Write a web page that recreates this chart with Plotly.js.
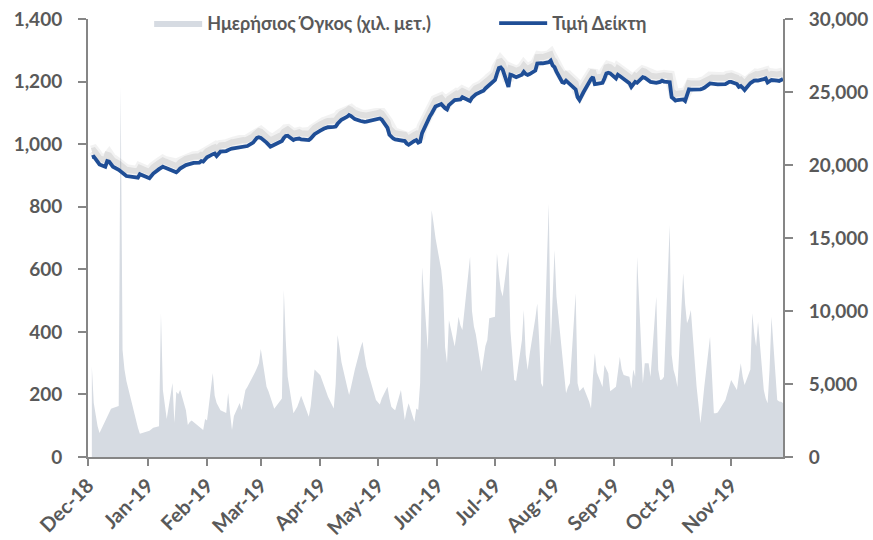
<!DOCTYPE html>
<html>
<head>
<meta charset="utf-8">
<script src="https://cdn.plot.ly/plotly-3.0.1.min.js"></script>
<style>html,body{margin:0;padding:0;background:#fff;}#chart{width:873px;height:540px;}</style>
</head>
<body>
<div id="chart"></div>
<script>
// Trading months and the trading days in each
const months = ['2018-12','2019-01','2019-02','2019-03','2019-04','2019-05','2019-06','2019-07','2019-08','2019-09','2019-10','2019-11'];
const tradingDays = [
  [3,4,5,6,7,10,11,12,13,14,17,18,19,20,21,27,28],
  [2,3,4,7,8,9,10,11,14,15,16,17,18,21,22,23,24,25,28,29,30,31],
  [1,4,5,6,7,8,11,12,13,14,15,18,19,20,21,22,25,26,27,28],
  [1,4,5,6,7,8,12,13,14,15,18,19,20,21,22,26,27,28,29],
  [1,2,3,4,5,8,9,10,11,12,15,16,17,18,19,22,23,24,25,30],
  [2,3,6,7,8,9,10,13,14,15,16,17,20,21,22,23,24,27,28,29,30,31],
  [3,4,5,6,7,10,11,12,13,14,18,19,20,21,24,25,26,27,28],
  [1,2,3,4,5,8,9,10,11,12,15,16,17,18,19,22,23,24,25,26,29,30,31],
  [1,2,5,6,7,8,9,12,13,14,16,19,20,21,22,23,26,27,28,29,30],
  [2,3,4,5,6,9,10,11,12,13,16,17,18,19,20,23,24,25,26,27,30],
  [1,2,3,4,7,8,9,10,11,14,15,16,17,18,21,22,23,24,25,29,30,31],
  [1,4,5,6,7,8,11,12,13,14,15,18,19,20,21,22,25,26,27,28]
];

// Τιμή Δείκτη (left axis)
const indexValues = [
  958,960,952,942,935,928,946,944,935,928,918,912,907,903,898,893,904,
  891,900,906,920,926,928,925,923,916,912,910,915,922,933,935,936,938,940,941,946,944,950,
  958,968,970,962,970,976,978,982,984,986,987,992,990,993,992,994,1005,1012,1020,1022,
  1020,1005,998,992,995,998,1010,1020,1026,1027,1013,1016,1018,1018,1015,1013,1018,1026,1032,
  1043,1048,1050,1052,1054,1055,1056,1065,1074,1078,1088,1093,1090,1085,1080,1074,1072,1071,1072,1078,
  1082,1078,1052,1030,1022,1018,1015,1012,1008,1010,1002,998,1010,1013,1005,1008,1035,1078,1088,1098,1109,1120,
  1128,1120,1115,1111,1125,1141,1142,1140,1143,1150,1138,1148,1155,1159,1168,1171,1178,1183,1190,
  1205,1225,1243,1245,1238,1183,1222,1220,1216,1214,1222,1231,1224,1221,1224,1235,1258,1260,1259,1258,1262,1267,1252,
  1246,1232,1198,1196,1203,1198,1192,1175,1150,1141,1165,1200,1208,1215,1192,1193,1196,1210,1226,1228,1226,
  1210,1222,1218,1214,1208,1195,1183,1190,1199,1196,1214,1212,1208,1204,1199,1196,1197,1199,1203,1200,1198,
  1150,1145,1139,1141,1143,1138,1160,1175,1174,1173,1173,1175,1177,1180,1194,1193,1192,1192,1191,1192,1197,1199,
  1199,1192,1183,1186,1180,1173,1195,1200,1203,1204,1203,1208,1210,1197,1200,1205,1203,1202,1205,1208
];

// Ημερήσιος Όγκος (χιλ. μετ.) (right axis)
const volumeValues = [
  6200,3700,2900,2100,1640,2500,2760,3100,3300,3350,3500,25400,7330,6000,5200,2000,1600,
  1800,1900,2000,2100,9840,4590,3500,2600,5070,2330,4470,4300,4600,3200,2190,2400,2500,2400,2100,2000,1850,2600,
  2500,5750,4200,3700,3400,3200,3010,4380,3000,1850,2800,3700,3220,3900,4590,4800,5500,5800,6100,6420,
  7400,4820,4500,4130,3700,3300,4000,11440,8000,5500,2990,3200,3450,3800,4200,2760,3500,4800,6000,
  5600,5270,4900,4500,4130,3330,5000,8360,7500,6500,4800,4250,4800,5400,6000,7500,7900,7000,6200,3900,
  3600,4000,4820,4000,3450,3300,3200,4590,3500,2530,3200,3680,2420,3330,3220,5070,13000,7330,12000,16900,16000,15000,
  12800,11440,7500,6420,9380,7560,8500,9610,9000,8700,13720,10000,8930,8400,5840,6800,7600,8010,9500,
  9610,13950,12500,11440,11000,14060,8700,7000,5270,5200,8000,10070,7000,5960,7000,9500,10520,8000,5050,4800,17370,7560,10500,
  14180,11000,7000,5500,4360,4800,5050,11210,5050,4500,4800,3800,3330,5500,7100,5800,4800,6300,6000,5730,4500,
  4820,5800,6870,6000,5620,5500,4700,6000,5500,13720,5050,6420,6420,6420,5500,10980,6000,5270,5300,5500,15890,
  7000,5960,5500,4800,12580,10500,9160,9500,10070,4820,3500,2310,3500,4820,8240,5000,2990,3000,3050,3900,4360,4700,
  5270,4590,5500,6420,5500,4930,6000,9840,8500,7560,9270,4590,4000,3680,6000,9610,3900,3800,3790,3700
];

const leftTicks = [0,200,400,600,800,1000,1200,1400];
const rightTicks = [0,5000,10000,15000,20000,25000,30000];
const seriesNames = ['Ημερήσιος Όγκος (χιλ. μετ.)', 'Τιμή Δείκτη'];

const dates = [];
months.forEach((m, i) => tradingDays[i].forEach(d => dates.push(m + '-' + String(d).padStart(2, '0'))));

const FONT = 'Lato, "Open Sans", sans-serif';
const GREY = '#595959';
const AXIS = '#868686';

const traces = [
  {x: dates, y: volumeValues, type: 'scatter', mode: 'lines', fill: 'tozeroy',
   fillcolor: '#d6dbe2', line: {width: 0, color: '#d6dbe2'}, name: seriesNames[0], yaxis: 'y', hoverinfo: 'x+y'},
  {x: dates, y: indexValues, type: 'scatter', mode: 'lines', line: {width: 11, color: 'rgba(0,0,0,0.05)'},
   showlegend: false, hoverinfo: 'skip', yaxis: 'y2'},
  {x: dates, y: indexValues, type: 'scatter', mode: 'lines', line: {width: 6, color: 'rgba(0,0,0,0.08)'},
   showlegend: false, hoverinfo: 'skip', yaxis: 'y2'},
  {x: dates, y: indexValues, type: 'scatter', mode: 'lines', line: {width: 3.8, color: '#1f4e96'},
   name: seriesNames[1], yaxis: 'y3'}
];

const layout = {
  width: 873, height: 540,
  margin: {l: 88, r: 90, t: 19, b: 83, autoexpand: false},
  paper_bgcolor: '#fff', plot_bgcolor: '#fff',
  font: {family: FONT, color: GREY, size: 18, weight: 700},
  showlegend: true,
  legend: {orientation: 'h', x: 0.088, xanchor: 'left', y: 0.99, yanchor: 'middle',
           font: {family: FONT, size: 18, color: GREY, weight: 700}, bgcolor: 'rgba(0,0,0,0)',
           traceorder: 'normal', itemwidth: 48, entrywidth: 282, entrywidthmode: 'pixels'},
  xaxis: {type: 'date', range: ['2018-12-01', '2019-11-28'], tick0: '2018-12-01', dtick: 'M1',
          tickformat: '%b-%y', tickangle: -45, showgrid: false, zeroline: false,
          showline: true, linecolor: AXIS, linewidth: 2, ticks: 'outside', ticklen: 7, tickwidth: 2, tickcolor: AXIS,
          tickfont: {family: FONT, size: 20, color: GREY, weight: 700}, anchor: 'y', fixedrange: true},
  yaxis: {range: [0, 30000], side: 'right', tickvals: rightTicks, tickformat: ',d', showgrid: false, zeroline: false,
          showline: true, linecolor: AXIS, linewidth: 2, ticks: 'outside', ticklen: 8, tickwidth: 2, tickcolor: AXIS,
          tickfont: {family: FONT, size: 19, color: GREY, weight: 700}, ticklabelstandoff: 12, fixedrange: true},
  yaxis2: {range: [-20, 1380], overlaying: 'y', visible: false, fixedrange: true},
  yaxis3: {range: [0, 1400], overlaying: 'y', side: 'left', tickvals: leftTicks, tickformat: ',d', showgrid: false, zeroline: false,
           showline: true, linecolor: AXIS, linewidth: 2, ticks: 'outside', ticklen: 8, tickwidth: 2, tickcolor: AXIS,
           tickfont: {family: FONT, size: 19, color: GREY, weight: 700}, ticklabelstandoff: 12, fixedrange: true}
};

Plotly.newPlot('chart', traces, layout, {displayModeBar: false, staticPlot: true});
</script>
</body>
</html>
